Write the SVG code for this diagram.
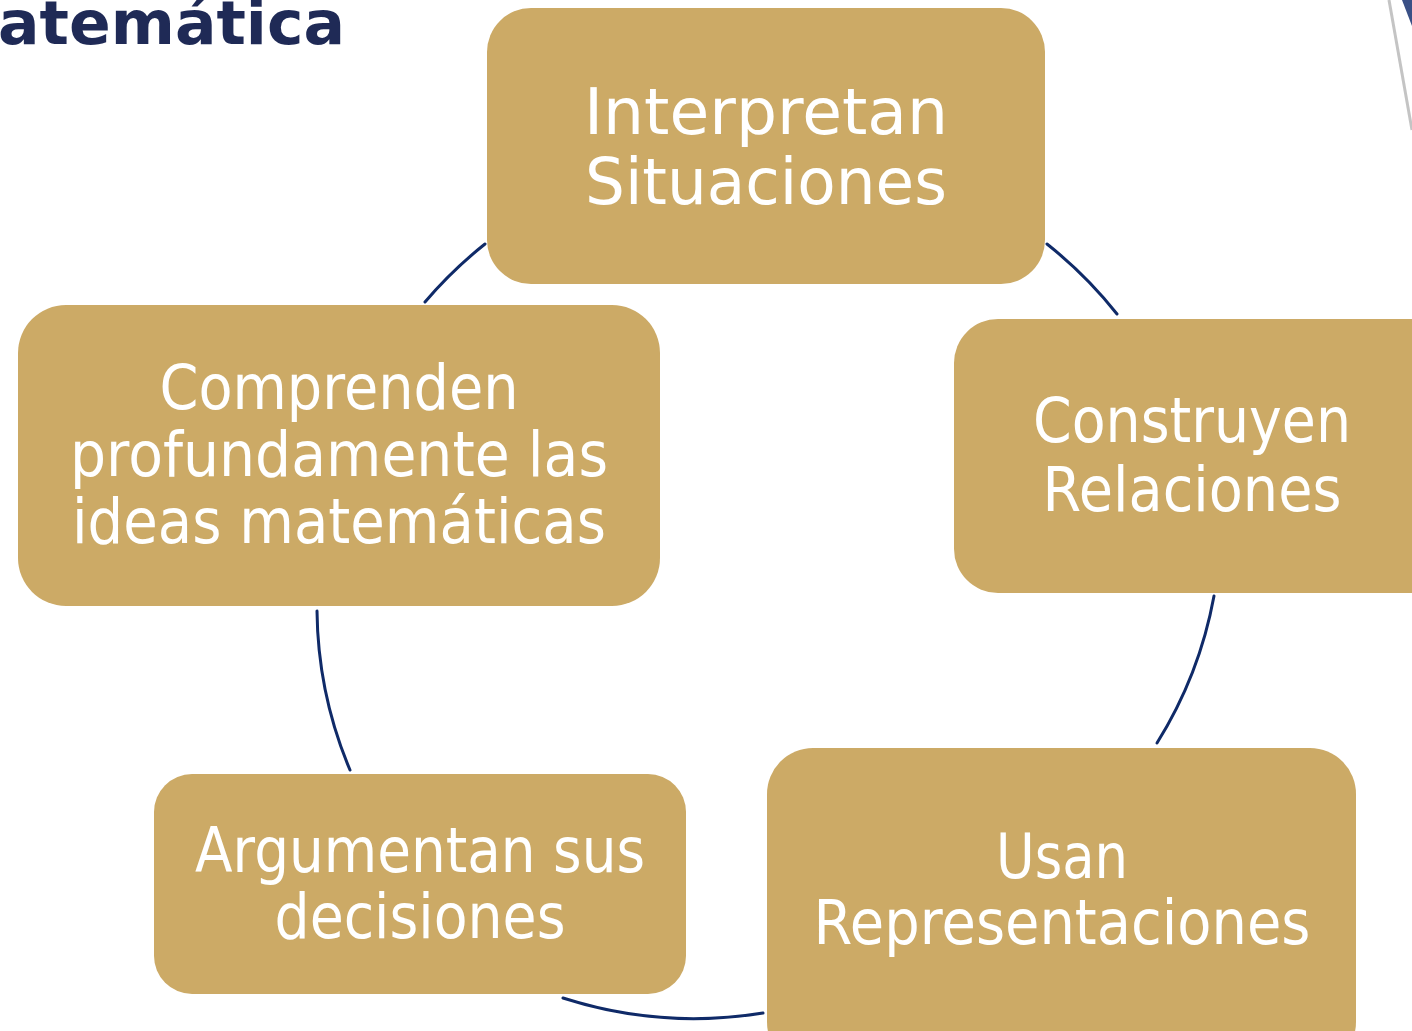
<svg xmlns="http://www.w3.org/2000/svg" width="1412" height="1031" viewBox="0 0 1412 1031">
<defs>
<style>
.box{fill:#ccaa66;}
.lbl{font-family:"DejaVu Sans",Verdana,sans-serif;fill:#ffffff;text-anchor:middle;font-size:62px;}
.arc{fill:none;stroke:#0f2a68;stroke-width:3;stroke-linecap:round;}
</style>
</defs>
<rect width="1412" height="1031" fill="#ffffff"/>
<text x="-2" y="44" font-family="DejaVu Sans,Verdana,sans-serif" font-weight="bold" font-size="61" fill="#1f2a56" textLength="347" lengthAdjust="spacingAndGlyphs">atemática</text>
<line x1="1389" y1="0" x2="1412" y2="130" stroke="#c4c4c4" stroke-width="3"/>
<polygon points="1402,0 1412,0 1412,26" fill="#3a5086"/>
<g id="connectors">
<path class="arc" d="M1047,244 A430,430 0 0,1 1117,314"/>
<path class="arc" d="M1214,596 A420,420 0 0,1 1157,743"/>
<path class="arc" d="M763,1013 A430,430 0 0,1 563,998"/>
<path class="arc" d="M350,770 A420,420 0 0,1 317,611"/>
<path class="arc" d="M425,302 A430,430 0 0,1 485,244"/>
</g>
<g id="node-interpretan">
<rect class="box" x="487" y="8" width="558" height="276" rx="44"/>
<text class="lbl" x="766" y="134" textLength="364" lengthAdjust="spacingAndGlyphs" style="font-size:64px">Interpretan</text>
<text class="lbl" x="766" y="204" textLength="362" lengthAdjust="spacingAndGlyphs" style="font-size:64px">Situaciones</text>
</g>
<g id="node-construyen">
<rect class="box" x="954" y="319" width="500" height="274" rx="44"/>
<text class="lbl" x="1192" y="442" textLength="318" lengthAdjust="spacingAndGlyphs">Construyen</text>
<text class="lbl" x="1192" y="511" textLength="299" lengthAdjust="spacingAndGlyphs">Relaciones</text>
</g>
<g id="node-usan">
<rect class="box" x="767" y="748" width="589" height="320" rx="46"/>
<text class="lbl" x="1062" y="878" textLength="132" lengthAdjust="spacingAndGlyphs">Usan</text>
<text class="lbl" x="1062" y="944" textLength="497" lengthAdjust="spacingAndGlyphs">Representaciones</text>
</g>
<g id="node-argumentan">
<rect class="box" x="154" y="774" width="532" height="220" rx="38"/>
<text class="lbl" x="420" y="872" textLength="450" lengthAdjust="spacingAndGlyphs">Argumentan sus</text>
<text class="lbl" x="420" y="938" textLength="291" lengthAdjust="spacingAndGlyphs">decisiones</text>
</g>
<g id="node-comprenden">
<rect class="box" x="18" y="305" width="642" height="301" rx="48"/>
<text class="lbl" x="339" y="409" textLength="359" lengthAdjust="spacingAndGlyphs">Comprenden</text>
<text class="lbl" x="339" y="476" textLength="538" lengthAdjust="spacingAndGlyphs">profundamente las</text>
<text class="lbl" x="339" y="543" textLength="534" lengthAdjust="spacingAndGlyphs">ideas matemáticas</text>
</g>
</svg>
